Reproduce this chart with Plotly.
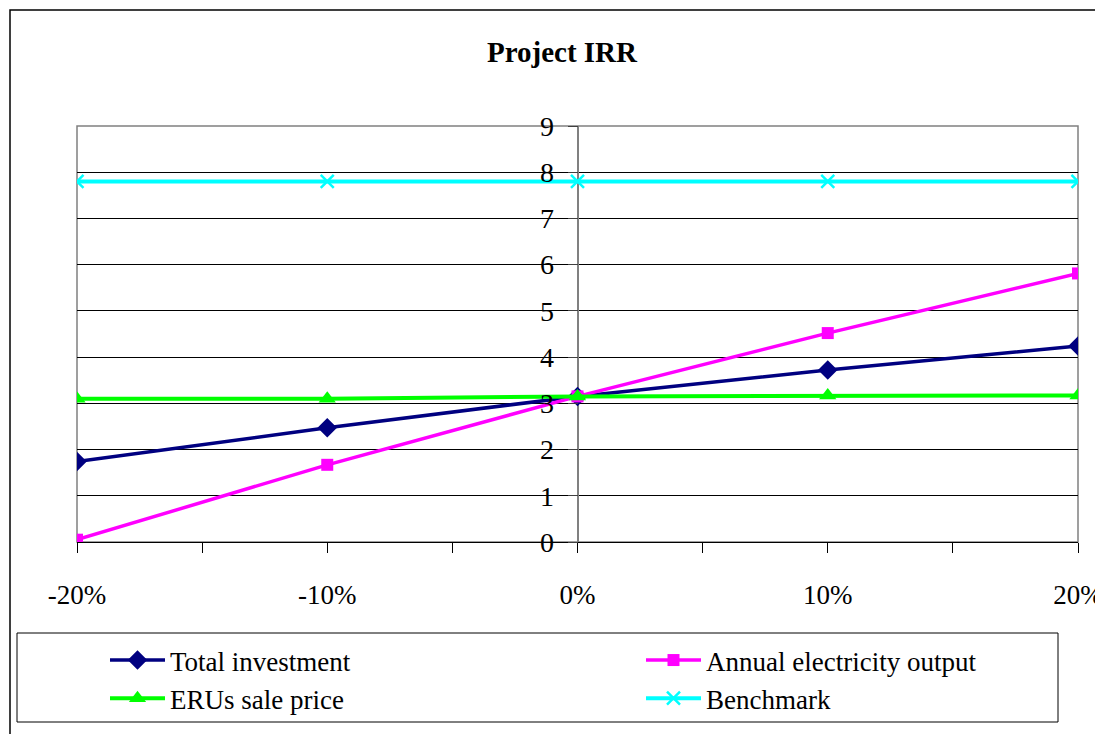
import plotly.graph_objects as go

# ---- data ----
sensitivity = [-20, -10, 0, 10, 20]          # % change of parameter
total_investment = [1.74, 2.47, 3.15, 3.72, 4.24]
annual_electricity = [0.05, 1.67, 3.15, 4.52, 5.81]
erus_price = [3.10, 3.10, 3.15, 3.17, 3.17]
benchmark = [7.8, 7.8, 7.8, 7.8, 7.8]

x_tick_vals = [-20, -15, -10, -5, 0, 5, 10, 15, 20]
x_tick_text = ["-20%", "", "-10%", "", "0%", "", "10%", "", "20%"]
y_tick_vals = [0, 1, 2, 3, 4, 5, 6, 7, 8, 9]

FONT = "Liberation Serif, Times New Roman, serif"

fig = go.Figure()

fig.add_trace(go.Scatter(
    x=sensitivity, y=total_investment, name="Total investment", mode="lines+markers",
    line=dict(color="#000080", width=3.5),
    marker=dict(symbol="diamond", size=15, color="#000080"),
    legend="legend"))
fig.add_trace(go.Scatter(
    x=sensitivity, y=annual_electricity, name="Annual electricity output", mode="lines+markers",
    line=dict(color="#FF00FF", width=3.5),
    marker=dict(symbol="square", size=12, color="#FF00FF"),
    legend="legend2"))
fig.add_trace(go.Scatter(
    x=sensitivity, y=erus_price, name="ERUs sale price", mode="lines+markers",
    line=dict(color="#00FF00", width=4),
    marker=dict(symbol="triangle-up", size=15, color="#00FF00"),
    legend="legend"))
fig.add_trace(go.Scatter(
    x=sensitivity, y=benchmark, name="Benchmark", mode="lines+markers",
    line=dict(color="#00FFFF", width=4),
    marker=dict(symbol="x-thin", size=13, color="#00FFFF",
                line=dict(color="#00FFFF", width=2.5)),
    legend="legend2"))

# page body has an 8px margin; figure is sized/positioned to compensate
OFF = 8
W, H = 1103 - OFF, 734 - OFF
PL, PR, PT, PB = 77, 1078, 126, 542          # plot-area edges in page pixels
L = PL - OFF
T = PT - OFF
R = W - (PR - OFF)
B = H - (PB - OFF)
pw = W - L - R
ph = H - T - B


def px_x(p):
    return (p - PL) / pw


def px_y(p):
    return (PB - p) / ph


fig.update_layout(
    width=W, height=H,
    margin=dict(l=L, r=R, t=T, b=B, autoexpand=False),
    paper_bgcolor="white", plot_bgcolor="white",
    font=dict(family=FONT, size=27, color="black"),
    title=dict(text="Project IRR", x=(562 - OFF) / W, xanchor="center",
               y=1 - (52 - OFF) / H, yanchor="middle",
               font=dict(family=FONT, size=29, weight="bold", color="black")),
    xaxis=dict(range=[-20, 20], tickvals=x_tick_vals, ticktext=x_tick_text,
               ticks="outside", ticklen=10, tickcolor="black", tickwidth=1,
               showline=True, linecolor="black", linewidth=1,
               showgrid=False, zeroline=True, zerolinecolor="#808080", zerolinewidth=1.5,
               ticklabelstandoff=19, ticklabeloverflow="allow", automargin=False,
               tickfont=dict(family=FONT, size=27, color="black")),
    xaxis2=dict(range=[-20, 20], overlaying="x", anchor="y", side="bottom",
                tickvals=x_tick_vals, ticks="inside", ticklen=5, tickcolor="black",
                showticklabels=False, showgrid=False, zeroline=False, showline=False,
                automargin=False),
    yaxis=dict(range=[0, 9], tickvals=y_tick_vals, anchor="free", position=0.5,
               ticks="outside", ticklen=10, tickcolor="#404040",
               showline=False, showgrid=True, gridcolor="black", gridwidth=1,
               zeroline=False, ticklabelstandoff=8, ticklabeloverflow="allow",
               automargin=False,
               tickfont=dict(family=FONT, size=28, color="black")),
    legend=dict(x=px_x(105), xanchor="left", y=px_y(636), yanchor="top",
                orientation="v", bgcolor="rgba(0,0,0,0)", borderwidth=0,
                itemwidth=55, tracegroupgap=0,
                font=dict(family=FONT, size=27, color="black")),
    legend2=dict(x=px_x(641), xanchor="left", y=px_y(636), yanchor="top",
                 orientation="v", bgcolor="rgba(0,0,0,0)", borderwidth=0,
                 itemwidth=55, tracegroupgap=0,
                 font=dict(family=FONT, size=27, color="black")),
    showlegend=True,
    shapes=[
        # plot area border (gray)
        dict(type="rect", xref="paper", yref="paper", x0=0, x1=1, y0=0, y1=1,
             line=dict(color="#808080", width=1.5), layer="below"),
        # outer chart border
        dict(type="rect", xref="paper", yref="paper",
             x0=px_x(10), x1=px_x(1130), y0=px_y(760), y1=px_y(10),
             line=dict(color="black", width=1.5), layer="below"),
        # legend box
        dict(type="rect", xref="paper", yref="paper",
             x0=px_x(17), x1=px_x(1058), y0=px_y(722), y1=px_y(633),
             line=dict(color="black", width=1), layer="below"),
    ],
)

fig.write_html("out.html")
